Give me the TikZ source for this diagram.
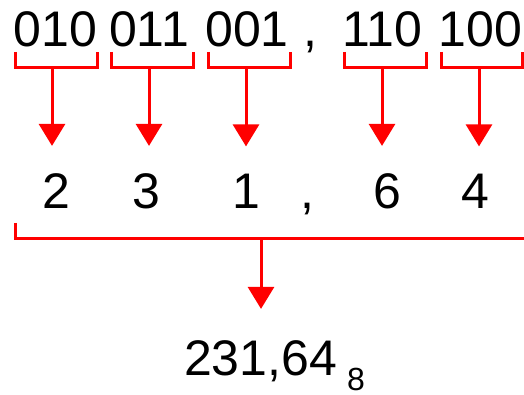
\documentclass[tikz,border=0pt]{standalone}
\usepackage{fontspec}
\setmainfont{Liberation Sans}
\usetikzlibrary{arrows.meta}

\tikzset{
  bits/.style={anchor=base, inner sep=0pt, font=\fontsize{50}{60}\selectfont},
  sub/.style={anchor=base, inner sep=0pt, font=\fontsize{32}{38}\selectfont},
  brk/.style={draw=red, line width=3pt},
  arr/.style={draw=red, fill=red, line width=3pt, -{Triangle[width=26pt,length=22pt]}, shorten >=27pt}
}

\begin{document}
\begin{tikzpicture}[x=1pt, y=-1pt]
    \useasboundingbox (0,0) rectangle (524,395);

    % Binary triplets
    \node[bits] (b1) at (55.5,47) {010};
    \node[bits] (b2) at (149,47) {011};
    \node[bits] (b3) at (247,47) {001};
    \node[bits] (c1) at (310,47) {,};
    \node[bits] (b4) at (382,47) {110};
    \node[bits] (b5) at (480.5,47) {100};

    % Brackets under each triplet
    \draw[brk] (15,52) |- (97,68) -- (97,52);
    \draw[brk] (111,52) |- (193,68) -- (193,52);
    \draw[brk] (208,52) |- (290,68) -- (290,52);
    \draw[brk] (344,52) |- (426,68) -- (426,52);
    \draw[brk] (441,52) |- (522,68) -- (522,52);
    \coordinate (s1) at (52,68);
    \coordinate (s2) at (149,68);
    \coordinate (s3) at (246,68);
    \coordinate (s4) at (382,68);
    \coordinate (s5) at (479,68);

    % Octal digits
    \node[bits] (d1) at (56,208) {2};
    \node[bits] (d2) at (146,208) {3};
    \node[bits] (d3) at (246,208) {1};
    \node[bits] (c2) at (307,208) {,};
    \node[bits] (d4) at (387,208) {6};
    \node[bits] (d5) at (475,208) {4};

    % Triplet -> digit
    \draw[arr] (s1) -- (s1 |- d1.north);
    \draw[arr] (s2) -- (s2 |- d2.north);
    \draw[arr] (s3) -- (s3 |- d3.north);
    \draw[arr] (s4) -- (s4 |- d4.north);
    \draw[arr] (s5) -- (s5 |- d5.north);

    % Bracket over all digits
    \draw[brk] (15,223) |- (524,238);
    \coordinate (s6) at (261,238);

    % Result
    \node[bits] (res) at (260.5,375) {231,64};
    \node[sub] (base) at (356,390) {8};
    \draw[arr, shorten >=31pt] (s6) -- (s6 |- res.north);
\end{tikzpicture}
\end{document}
